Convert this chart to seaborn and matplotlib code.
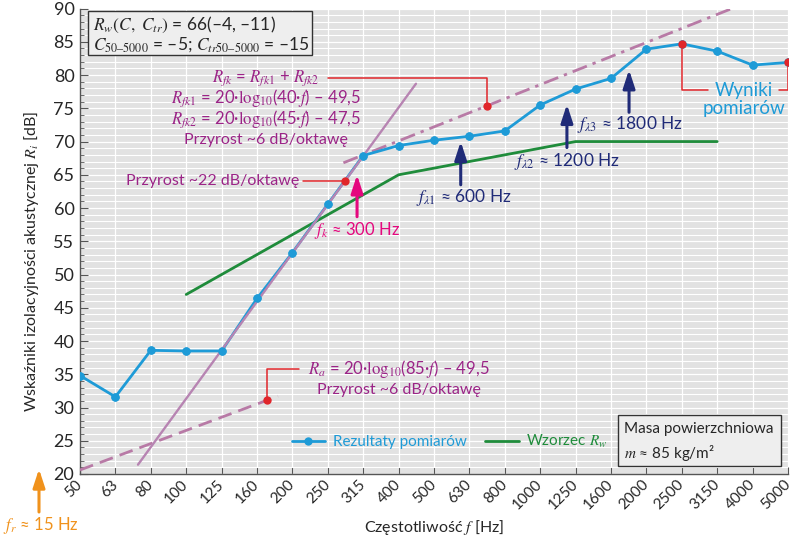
import numpy as np
import pandas as pd
import matplotlib
matplotlib.use("Agg")
import matplotlib.pyplot as plt
from matplotlib.patches import Rectangle
import seaborn as sns

# ---------------- data ----------------
freq_labels = ["50", "63", "80", "100", "125", "160", "200", "250", "315", "400",
               "500", "630", "800", "1000", "1250", "1600", "2000", "2500", "3150",
               "4000", "5000"]
measured_db = [34.8, 31.6, 38.6, 38.5, 38.5, 46.4, 53.3, 60.6, 67.9, 69.4,
               70.2, 70.8, 71.6, 75.5, 77.9, 79.5, 83.9, 84.7, 83.6, 81.5, 81.9]
ref_labels = freq_labels[3:19]
ref_db = [47, 50, 53, 56, 59, 62, 65, 66, 67, 68, 69, 70, 70, 70, 70, 70]

# guide lines (end points, Hz / dB)
slope22_hz = [73, 448]
slope22_db = [21.4, 78.7]
slope6_hz = [279, 3480]
slope6_db = [66.8, 89.9]
ra_hz = [50, 182]
ra_db = [20.6, 31.7]

# marked points on guide lines
red_hz = [282, 713, 169]
red_db = [64.0, 75.3, 31.1]
red_meas_labels = ["2500", "5000"]

# characteristic frequencies (arrows)
fk_hz = 305
fl_hz = [600, 1200, 1800]
fl_tip_db = [70.0, 75.6, 80.8]
fl_base_db = [63.5, 69.1, 74.4]

# ---------------- colours ----------------
BLUE = "#1e9bd7"
GREEN = "#1f8c3b"
LILAC = "#b784b2"
LILAC2 = "#b87aa6"
PURPLE = "#9b2487"
RED = "#e0262b"
NAVY = "#202b78"
MAGENTA = "#e4087e"
ORANGE = "#f0921c"


def pos(f):
    return 3 * np.log2(np.asarray(f, dtype=float) / 50.0)


idx = {lab: i for i, lab in enumerate(freq_labels)}

sns.set_theme(style="darkgrid", rc={"axes.facecolor": "#e2e2e2", "grid.color": "#ffffff"})
plt.rcParams["font.family"] = ["Lato", "DejaVu Sans"]
plt.rcParams["mathtext.fontset"] = "stix"

fig = plt.figure(figsize=(8, 5.44), dpi=100)
ax = fig.add_axes([0.1, 0.1287, 0.885, 0.8555])

meas_df = pd.DataFrame({"x": np.arange(len(freq_labels)), "db": measured_db})
ref_df = pd.DataFrame({"x": [idx[l] for l in ref_labels], "db": ref_db})

# guide lines
sns.lineplot(x=pos(slope22_hz), y=slope22_db, ax=ax, color=LILAC, lw=1.7, zorder=6)
sns.lineplot(x=pos(slope6_hz), y=slope6_db, ax=ax, color=LILAC2, lw=2.0, zorder=3)
ax.lines[-1].set_linestyle((0, (5.5, 2.2, 1.2, 2.2)))
sns.lineplot(x=pos(ra_hz), y=ra_db, ax=ax, color=LILAC2, lw=2.0, zorder=3)
ax.lines[-1].set_linestyle((0, (5, 2.6)))

# reference curve and measurements
sns.lineplot(data=ref_df, x="x", y="db", ax=ax, color=GREEN, lw=2.0, zorder=4,
             label="Wzorzec $R_w$")
sns.lineplot(data=meas_df, x="x", y="db", ax=ax, color=BLUE, lw=2.0, zorder=5,
             marker="o", markersize=6, markeredgewidth=0, label="Rezultaty pomiarów")
sns.scatterplot(data=meas_df, x="x", y="db", ax=ax, color=BLUE, s=36,
                linewidth=0, zorder=6.5, legend=False)

# red markers
ax.scatter(pos(red_hz), red_db, s=36, color=RED, zorder=7, linewidths=0)
ax.scatter([idx[l] for l in red_meas_labels],
           [measured_db[idx[l]] for l in red_meas_labels],
           s=36, color=RED, zorder=7, linewidths=0)

# red leader lines
lk = dict(color=RED, lw=1.1, zorder=6)
ax.plot([7.0, pos(713), pos(713)], [79.6, 79.6, 75.3], **lk)
ax.plot([6.3, pos(282)], [64.0, 64.0], **lk)
ax.plot([pos(169), pos(169), 6.2], [31.1, 35.8, 35.8], **lk)
ax.plot([17, 17, 17.75], [measured_db[17], 77.8, 77.8], **lk)
ax.plot([19.75, 20, 20], [77.8, 77.8, measured_db[20]], **lk)

# axes setup
ax.set_xlim(0, 20)
ax.set_ylim(20, 90)
ax.set_xticks(np.arange(len(freq_labels)))
ax.set_xticklabels(freq_labels, rotation=45, ha="right", va="center",
                   rotation_mode="anchor", fontsize=11)
ax.set_yticks(np.arange(20, 91, 5))
ax.set_yticks(np.arange(20, 91, 1), minor=True)
ax.tick_params(axis="y", labelsize=13)
ax.grid(which="major", axis="both", color="white", lw=0.9)
ax.grid(which="minor", axis="y", color="white", lw=0.8)
ax.tick_params(axis="x", which="major", direction="in", length=5, width=0.8,
               color="#555555", bottom=True, pad=6)
ax.tick_params(axis="y", which="major", direction="in", length=6, width=0.8,
               color="#555555", left=True, pad=4)
ax.tick_params(axis="y", which="minor", direction="in", length=3, width=0.6,
               color="#555555", left=True)
for s in ["top", "right"]:
    ax.spines[s].set_visible(False)
for s in ["left", "bottom"]:
    ax.spines[s].set_visible(True)
    ax.spines[s].set_color("#555555")
    ax.spines[s].set_linewidth(1.0)

ax.set_xlabel("Częstotliwość $f$ [Hz]", fontsize=11.5, va="center")
ax.set_ylabel("Wskaźniki izolacyjności akustycznej $R_i$ [dB]", fontsize=11.5, va="center")
ax.xaxis.set_label_coords(0.5, -0.114)
ax.yaxis.set_label_coords(-0.069, 0.456)

# legend
handles, labels = ax.get_legend_handles_labels()
order = [labels.index("Rezultaty pomiarów"), labels.index("Wzorzec $R_w$")]
ax.legend([handles[i] for i in order], [labels[i] for i in order],
          loc="center", bbox_to_anchor=(0.522, 0.069), ncol=2, frameon=False,
          fontsize=11, labelcolor="linecolor", handlelength=2.2,
          columnspacing=1.2, handletextpad=0.5)

# top-left info box
ax.add_patch(Rectangle((0.23, 83.0), 6.33, 6.6, facecolor="#eeeeee",
                       edgecolor="#333333", lw=1.0, zorder=8))
ax.text(0.38, 87.5, "$R_w(C,\\ C_{tr})$ = 66(–4, –11)", fontsize=12.5,
        va="center", ha="left", zorder=9)
ax.text(0.38, 84.6, "$C_{50–5000}$ = –5; $C_{tr50–5000}$ = –15", fontsize=12.5,
        va="center", ha="left", zorder=9)

# bottom-right info box
ax.add_patch(Rectangle((15.2, 21.2), 4.6, 7.7, facecolor="#eeeeee",
                       edgecolor="#333333", lw=1.0, zorder=8))
ax.text(15.38, 26.7, "Masa powierzchniowa", fontsize=11, va="center", zorder=9)
ax.text(15.38, 23.2, "$m$ ≈ 85 kg/m²", fontsize=11, va="center", zorder=9)

# R_fk formulas
fk_x = 5.25
ax.text(fk_x, 79.6, "$R_{fk}$ = $R_{fk1}$ + $R_{fk2}$", color=PURPLE, fontsize=12,
        ha="center", va="center", zorder=9)
ax.text(fk_x, 76.5, "$R_{fk1}$ = 20·$\\mathrm{log}_{10}$(40·$f$) – 49,5", color=PURPLE,
        fontsize=12, ha="center", va="center", zorder=9)
ax.text(fk_x, 73.4, "$R_{fk2}$ = 20·$\\mathrm{log}_{10}$(45·$f$) – 47,5", color=PURPLE,
        fontsize=12, ha="center", va="center", zorder=9)
ax.text(fk_x, 70.3, "Przyrost ~6 dB/oktawę", color=PURPLE, fontsize=11.5,
        ha="center", va="center", zorder=9)
ax.text(6.2, 64.0, "Przyrost ~22 dB/oktawę", color=PURPLE, fontsize=11.5,
        ha="right", va="center", zorder=9)

# R_a formula
ax.text(9.0, 35.8, "$R_a$ = 20·$\\mathrm{log}_{10}$(85·$f$) – 49,5", color=PURPLE,
        fontsize=12, ha="center", va="center", zorder=9)
ax.text(9.0, 32.7, "Przyrost ~6 dB/oktawę", color=PURPLE, fontsize=11.5,
        ha="center", va="center", zorder=9)

# Wyniki pomiarów
ax.text(18.76, 77.7, "Wyniki", color=BLUE, fontsize=13.5, ha="center", va="center", zorder=9)
ax.text(18.76, 75.0, "pomiarów", color=BLUE, fontsize=13.5, ha="center", va="center", zorder=9)

# arrows
ap = dict(arrowstyle="-|>,head_length=0.55,head_width=0.18", lw=2.2,
          mutation_scale=20, shrinkA=0, shrinkB=0)
ax.annotate("", xy=(pos(fk_hz), 65.0), xytext=(pos(fk_hz), 58.7),
            arrowprops=dict(color=MAGENTA, **ap), zorder=9)
ax.text(pos(fk_hz), 56.6, "$f_k$ ≈ 300 Hz", color=MAGENTA, fontsize=12,
        ha="center", va="center", zorder=9)
fl_text = ["$f_{\\lambda 1}$ ≈ 600 Hz", "$f_{\\lambda 2}$ ≈ 1200 Hz", "$f_{\\lambda 3}$ ≈ 1800 Hz"]
fl_text_xy = [(10.85, 61.6), (13.76, 67.0), (15.54, 72.6)]
for f, tip, base, t, (tx, ty) in zip(fl_hz, fl_tip_db, fl_base_db, fl_text, fl_text_xy):
    ax.annotate("", xy=(pos(f), tip), xytext=(pos(f), base),
                arrowprops=dict(color=NAVY, **ap), zorder=9)
    ax.text(tx, ty, t, color=NAVY, fontsize=12.5, ha="center", va="center", zorder=9)

# f_r arrow outside the axes
ax.annotate("", xy=(39 / 800, 1 - 469 / 544), xytext=(39 / 800, 1 - 512 / 544),
            xycoords="figure fraction", textcoords="figure fraction",
            arrowprops=dict(color=ORANGE, **ap), annotation_clip=False)
fig.text(3 / 800, 1 - 526 / 544, "$f_r$ ≈ 15 Hz", color=ORANGE, fontsize=12,
         ha="left", va="center")

fig.savefig("out.png", dpi=100)
